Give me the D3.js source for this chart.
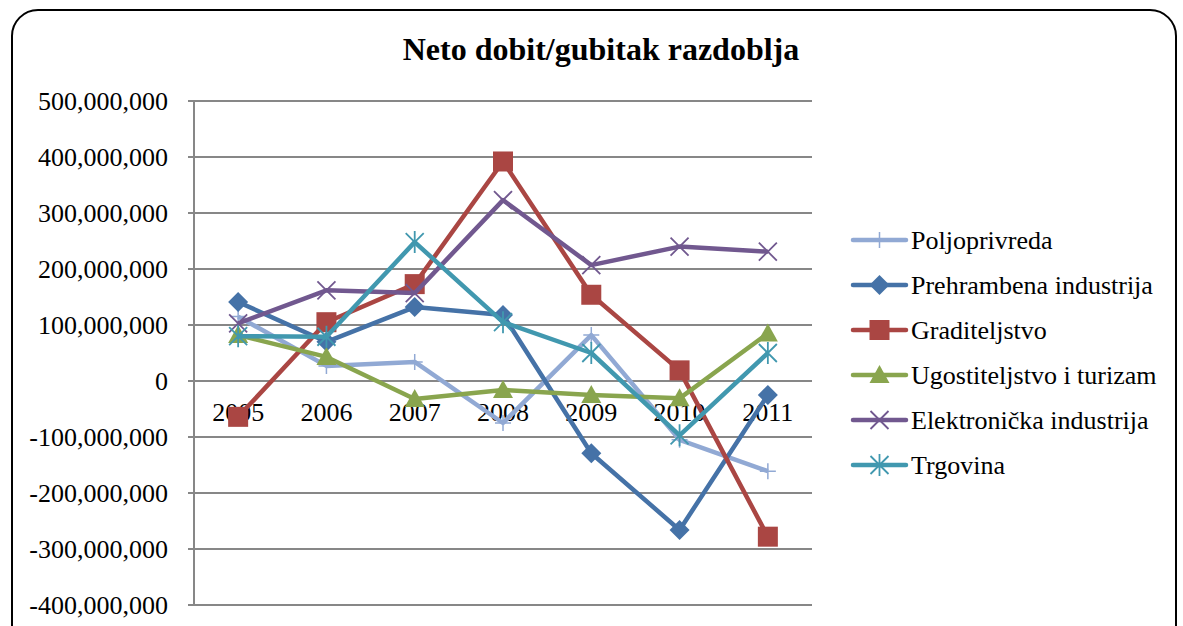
<!DOCTYPE html>
<html>
<head>
<meta charset="utf-8">
<script src="https://d3js.org/d3.v7.min.js"></script>
<style>
  body { margin: 0; background: #fff; }
  .grid line { stroke: #878787; stroke-width: 2px; }
</style>
</head>
<body>
<script>
var years = ["2005", "2006", "2007", "2008", "2009", "2010", "2011"];
var seriesNames = ["Poljoprivreda", "Prehrambena industrija", "Graditeljstvo",
                   "Ugostiteljstvo i turizam", "Elektronička industrija", "Trgovina"];
var poljoprivreda = [115e6, 27e6, 34e6, -75e6, 82e6, -105e6, -161e6];
var prehrambena   = [141e6, 70e6, 132e6, 118e6, -129e6, -266e6, -25e6];
var graditeljstvo = [-64e6, 105e6, 173e6, 392e6, 154e6, 19e6, -278e6];
var ugostiteljstvo = [82e6, 43e6, -32e6, -16e6, -25e6, -31e6, 85e6];
var elektronicka  = [103e6, 162e6, 157e6, 323e6, 207e6, 240e6, 231e6];
var trgovina      = [80e6, 79e6, 248e6, 105e6, 50e6, -97e6, 50e6];
var yTicks = [500e6, 400e6, 300e6, 200e6, 100e6, 0, -100e6, -200e6, -300e6, -400e6];

var colors = ["#91a9d4", "#4572a7", "#aa4643", "#89a54e", "#71588f", "#4198af"];
var markers = ["plus", "diamond", "square", "triangle", "cross", "star"];
var allSeries = [poljoprivreda, prehrambena, graditeljstvo, ugostiteljstvo, elektronicka, trgovina];

var FONT = "'Liberation Serif', 'Times New Roman', serif";
var width = 1183, height = 626;
var svg = d3.select("body").append("svg").attr("width", width).attr("height", height)
  .attr("font-family", FONT);

// chart border (rounded, runs off the bottom)
svg.append("rect")
  .attr("x", 12).attr("y", 10).attr("width", 1164).attr("height", 660)
  .attr("rx", 26).attr("ry", 26)
  .attr("fill", "#fff").attr("stroke", "#000").attr("stroke-width", 2);

svg.append("text")
  .attr("x", 601).attr("y", 60)
  .attr("text-anchor", "middle")
  .attr("font-family", FONT)
  .attr("font-size", 32).attr("font-weight", "bold")
  .text("Neto dobit/gubitak razdoblja");

var x = d3.scaleBand().domain(years).range([194, 812]);
var y = d3.scaleLinear().domain([-400e6, 500e6]).range([605, 101]);

// grid
svg.append("g").attr("class", "grid")
  .selectAll("line").data(yTicks).enter().append("line")
  .attr("x1", 188).attr("x2", 812)
  .attr("y1", function(d) { return y(d); })
  .attr("y2", function(d) { return y(d); });

svg.append("line")
  .attr("x1", 194).attr("x2", 194).attr("y1", 101).attr("y2", 605)
  .attr("stroke", "#878787").attr("stroke-width", 2);

var fmt = d3.format(",");
svg.append("g").selectAll("text").data(yTicks).enter().append("text")
  .attr("x", 168).attr("y", function(d) { return y(d); })
  .attr("dy", "0.35em").attr("text-anchor", "end")
  .attr("font-family", FONT).attr("font-size", 26)
  .text(function(d) { return fmt(d).replace("\u2212", "-"); });

// category labels sit just under the zero line
svg.append("g").selectAll("text").data(years).enter().append("text")
  .attr("x", function(d) { return x(d) + x.bandwidth() / 2; })
  .attr("y", y(0) + 40)
  .attr("text-anchor", "middle")
  .attr("font-family", FONT).attr("font-size", 26)
  .text(function(d) { return d; });

function drawMarker(g, type, color, cx, cy) {
  if (type === "plus") {
    g.append("path").attr("d", "M" + (cx - 8) + "," + cy + "h16M" + cx + "," + (cy - 8) + "v16")
      .attr("stroke", color).attr("stroke-width", 1.5).attr("fill", "none");
  } else if (type === "diamond") {
    g.append("path").attr("d", "M" + cx + "," + (cy - 10) + "L" + (cx + 10) + "," + cy + "L" + cx + "," + (cy + 10) + "L" + (cx - 10) + "," + cy + "Z")
      .attr("fill", color);
  } else if (type === "square") {
    g.append("rect").attr("x", cx - 10).attr("y", cy - 10).attr("width", 20).attr("height", 20)
      .attr("fill", color);
  } else if (type === "triangle") {
    g.append("path").attr("d", "M" + cx + "," + (cy - 10) + "L" + (cx + 10) + "," + (cy + 8) + "L" + (cx - 10) + "," + (cy + 8) + "Z")
      .attr("fill", color);
  } else if (type === "cross") {
    g.append("path").attr("d", "M" + (cx - 9) + "," + (cy - 9) + "L" + (cx + 9) + "," + (cy + 9) + "M" + (cx + 9) + "," + (cy - 9) + "L" + (cx - 9) + "," + (cy + 9))
      .attr("stroke", color).attr("stroke-width", 1.8).attr("fill", "none");
  } else if (type === "star") {
    g.append("path").attr("d", "M" + (cx - 9) + "," + (cy - 9) + "L" + (cx + 9) + "," + (cy + 9) + "M" + (cx + 9) + "," + (cy - 9) + "L" + (cx - 9) + "," + (cy + 9) + "M" + cx + "," + (cy - 11) + "v22")
      .attr("stroke", color).attr("stroke-width", 1.8).attr("fill", "none");
  }
}

var line = d3.line()
  .x(function(d, i) { return x(years[i]) + x.bandwidth() / 2; })
  .y(function(d) { return y(d); });

allSeries.forEach(function(vals, s) {
  var g = svg.append("g");
  g.append("path").datum(vals)
    .attr("d", line)
    .attr("fill", "none")
    .attr("stroke", colors[s])
    .attr("stroke-width", 4.5)
    .attr("stroke-linejoin", "round");
  vals.forEach(function(v, i) {
    drawMarker(g, markers[s], colors[s], x(years[i]) + x.bandwidth() / 2, y(v));
  });
});

// legend
seriesNames.forEach(function(name, s) {
  var ly = 240 + s * 45;
  var g = svg.append("g");
  g.append("line").attr("x1", 853).attr("x2", 906).attr("y1", ly).attr("y2", ly)
    .attr("stroke", colors[s]).attr("stroke-width", 4.5).attr("stroke-linecap", "round");
  drawMarker(g, markers[s], colors[s], 879.5, ly);
  g.append("text").attr("x", 911).attr("y", ly).attr("dy", "0.35em")
    .attr("font-family", FONT).attr("font-size", 26).text(name);
});
</script>
</body>
</html>
